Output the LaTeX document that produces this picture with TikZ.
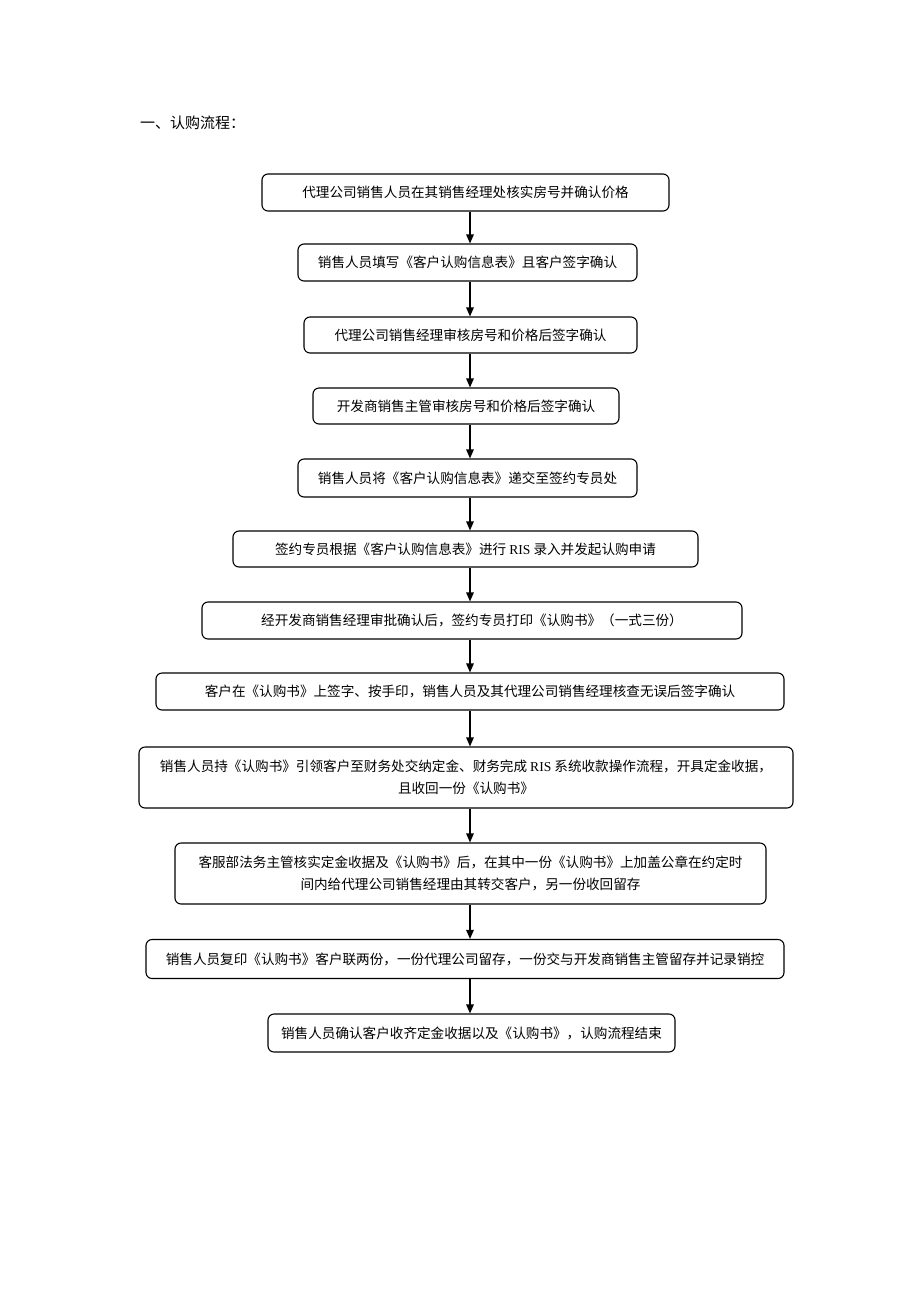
\documentclass[tikz,border=0pt]{standalone}
\usepackage{fontspec}
\setmainfont{Liberation Serif}
\newfontfamily\cjk{Noto Sans CJK SC}
\usetikzlibrary{arrows.meta}
\begin{document}
\begin{tikzpicture}[x=1pt,y=-1pt,
  stepbox/.style={draw=black,line width=1.1pt,rounded corners=6pt,inner sep=0pt,
    align=center,font=\cjk\fontsize{13.6}{21.5}\selectfont},
  arr/.style={line width=1.3pt,-{Triangle[length=9pt,width=7.5pt]}},
  titletext/.style={inner sep=0pt,anchor=west,font=\cjk\fontsize{15}{18}\selectfont}]
\useasboundingbox (0,0) rectangle (920,1302);
\node[titletext] (title) at (140,123) {一、认购流程：};
\node[stepbox,minimum width=407pt,minimum height=37pt] (n1) at (465.5,192.5) {代理公司销售人员在其销售经理处核实房号并确认价格};
\node[stepbox,minimum width=339pt,minimum height=37pt] (n2) at (467.5,262.5) {销售人员填写《客户认购信息表》且客户签字确认};
\node[stepbox,minimum width=333pt,minimum height=36pt] (n3) at (470.5,335) {代理公司销售经理审核房号和价格后签字确认};
\node[stepbox,minimum width=306pt,minimum height=36pt] (n4) at (466,406) {开发商销售主管审核房号和价格后签字确认};
\node[stepbox,minimum width=339pt,minimum height=38pt] (n5) at (467.5,478) {销售人员将《客户认购信息表》递交至签约专员处};
\node[stepbox,minimum width=465pt,minimum height=36pt] (n6) at (465.5,549) {签约专员根据《客户认购信息表》进行 {\rmfamily RIS} 录入并发起认购申请};
\node[stepbox,minimum width=540pt,minimum height=37pt] (n7) at (472,620.5) {经开发商销售经理审批确认后，签约专员打印《认购书》（一式三份）};
\node[stepbox,minimum width=628pt,minimum height=37pt] (n8) at (470,691.5) {客户在《认购书》上签字、按手印，销售人员及其代理公司销售经理核查无误后签字确认};
\node[stepbox,minimum width=654pt,minimum height=61pt] (n9) at (466,777.5) {销售人员持《认购书》引领客户至财务处交纳定金、财务完成 {\rmfamily RIS} 系统收款操作流程，开具定金收据，\\且收回一份《认购书》};
\node[stepbox,minimum width=591pt,minimum height=61pt] (n10) at (470.5,873.5) {客服部法务主管核实定金收据及《认购书》后，在其中一份《认购书》上加盖公章在约定时\\间内给代理公司销售经理由其转交客户，另一份收回留存};
\node[stepbox,minimum width=638pt,minimum height=39pt] (n11) at (465,959) {销售人员复印《认购书》客户联两份，一份代理公司留存，一份交与开发商销售主管留存并记录销控};
\node[stepbox,minimum width=407pt,minimum height=38pt] (n12) at (471.5,1033) {销售人员确认客户收齐定金收据以及《认购书》，认购流程结束};
\coordinate (ax) at (470,0);
\foreach \a/\b in {n1/n2,n2/n3,n3/n4,n4/n5,n5/n6,n6/n7,n7/n8,n8/n9,n9/n10,n10/n11,n11/n12}
  \draw[arr] (\a.south -| ax) -- (\b.north -| ax);
\end{tikzpicture}
\end{document}
